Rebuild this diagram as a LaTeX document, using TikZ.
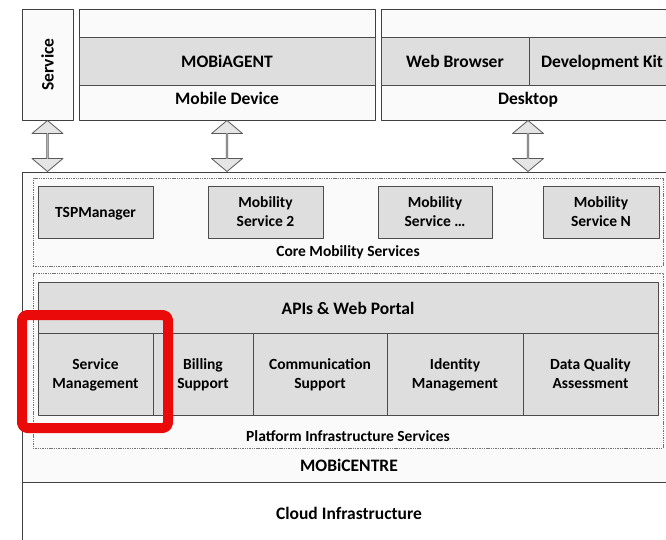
\documentclass[tikz,border=0pt]{standalone}
\usepackage{fontspec}
\setmainfont{Carlito}
\usetikzlibrary{shapes.arrows}
\definecolor{hilite}{RGB}{235,10,10}
\definecolor{boxgrey}{RGB}{222,222,222}
\newcommand\bigtxt{\bfseries\fontsize{17.5}{20}\selectfont}
\newcommand\smalltxt{\bfseries\fontsize{15.5}{19}\selectfont}

\begin{document}
\begin{tikzpicture}[x=1pt,y=-1pt,line join=round,
    outer/.style={draw=black!75,fill=black!2,line width=0.8pt,anchor=north west,inner sep=0pt,outer sep=0pt},
    caption/.style={font=\bigtxt,text height=13pt,text depth=0pt},
    band/.style={draw=black!70,fill=boxgrey,line width=0.8pt,anchor=north west,inner sep=0pt,outer sep=0pt,caption},
    cell/.style={draw=black!70,fill=boxgrey,line width=0.8pt,anchor=north west,inner sep=0pt,outer sep=0pt,font=\smalltxt,align=center,text depth=0pt},
    zone/.style={draw=black!55,dash pattern=on 1.4pt off 0.9pt,line width=0.8pt,anchor=north west,inner sep=0pt,outer sep=0pt},
    dblarrow/.style={double arrow,draw=black!65,fill=black!10,line width=0.8pt,rotate=90,
      minimum height=51pt,minimum width=31pt,double arrow head extend=8.5pt,double arrow tip angle=100,inner sep=0pt}]
  \clip (0,0) rectangle (666,539);
  \fill[white] (0,0) rectangle (666,539);

  % client side
  \node[outer,minimum width=51pt,minimum height=111pt] (svc) at (22,9) {};
  \node[rotate=90,font=\bigtxt] at (svc.center) {Service};
  \node[outer,minimum width=296pt,minimum height=111pt] (mob) at (79,9) {};
  \node[band,minimum width=296pt,minimum height=48pt] (agent) at (79,37) {MOBiAGENT};
  \node[caption] at (227,98) {Mobile Device};
  \node[outer,minimum width=294pt,minimum height=111pt] (desk) at (381,9) {};
  \node[band,minimum width=148pt,minimum height=48pt] (web) at (381,37) {Web Browser};
  \node[band,minimum width=146pt,minimum height=48pt] (devkit) at (529,37) {Development Kit};
  \node[caption] at (528,98) {Desktop};

  % MOBiCENTRE
  \node[outer,minimum width=654pt,minimum height=310pt] (centre) at (22,172) {};
  \node[caption] at (349,465) {MOBiCENTRE};

  \node[zone,minimum width=630pt,minimum height=88pt] (core) at (33,178) {};
  \node[cell,minimum width=115pt,minimum height=52pt] (tsp) at (38,186) {TSPManager};
  \node[cell,minimum width=115pt,minimum height=52pt] (ms2) at (208,186) {Mobility\\Service 2};
  \node[cell,minimum width=114pt,minimum height=52pt] (msx) at (378,186) {Mobility\\Service \dots};
  \node[cell,minimum width=116pt,minimum height=52pt] (msn) at (543,186) {Mobility\\Service N};
  \node[font=\smalltxt] at (348,252) {Core Mobility Services};

  \node[zone,minimum width=630pt,minimum height=175pt] (plat) at (33,273) {};
  \node[band,minimum width=620pt,minimum height=51pt] (api) at (38,282) {APIs \& Web Portal};
  \node[cell,minimum width=115pt,minimum height=82pt] (sm) at (38,333) {Service\\Management};
  \node[cell,minimum width=100pt,minimum height=82pt] (bill) at (153,333) {Billing\\Support};
  \node[cell,minimum width=134pt,minimum height=82pt] (comm) at (253,333) {Communication\\Support};
  \node[cell,minimum width=136pt,minimum height=82pt] (idm) at (387,333) {Identity\\Management};
  \node[cell,minimum width=135pt,minimum height=82pt] (dqa) at (523,333) {Data Quality\\Assessment};
  \node[font=\smalltxt] at (348,436) {Platform Infrastructure Services};

  % cloud
  \node[outer,fill=white,minimum width=654pt,minimum height=62pt,caption] (cloud) at (22,482) {Cloud Infrastructure};

  % links
  \path (svc.south) -- (svc.south |- centre.north) node[midway,dblarrow] {};
  \path (mob.south) -- (mob.south |- centre.north) node[midway,dblarrow] {};
  \path (desk.south) -- (desk.south |- centre.north) node[midway,dblarrow] {};

  % highlight
  \draw[hilite,line width=10pt,rounded corners=5pt] (22,315) rectangle (168,428);
\end{tikzpicture}
\end{document}
